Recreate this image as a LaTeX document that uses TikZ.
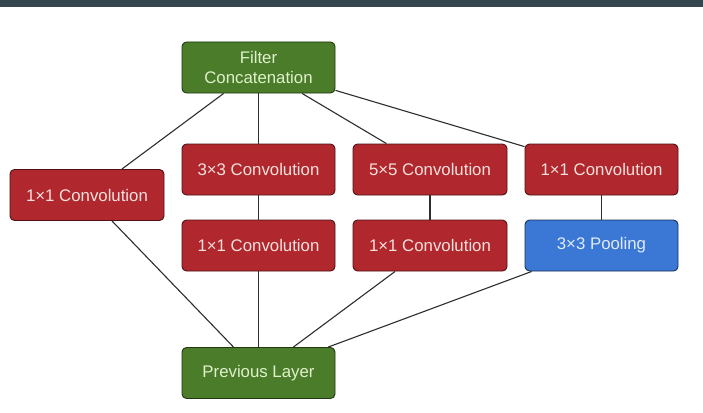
\documentclass[tikz,border=0pt]{standalone}
\usepackage{fontspec}
\setmainfont{Liberation Sans}
\definecolor{barcol}{HTML}{36464F}
\definecolor{convred}{HTML}{B0282D}
\definecolor{convredtxt}{HTML}{F6E0DE}
\definecolor{layergreen}{HTML}{4A7C2A}
\definecolor{layergreentxt}{HTML}{DFF1CB}
\definecolor{poolblue}{HTML}{3B78D6}
\definecolor{poolbluetxt}{HTML}{E2EBF8}
\definecolor{edgecol}{HTML}{2E2E2E}
\tikzset{
  block/.style={rectangle, rounded corners=4.5pt, minimum width=153pt, minimum height=51pt,
    inner sep=0pt, line width=0.9pt, align=center,
    font=\fontsize{16.8}{20}\selectfont},
  conv/.style={block, fill=convred, draw=convred!45!black, text=convredtxt},
  layer/.style={block, fill=layergreen, draw=layergreen!45!black, text=layergreentxt},
  pool/.style={block, fill=poolblue, draw=poolblue!40!black, text=poolbluetxt},
  link/.style={draw=edgecol, line width=1.1pt}
}
\begin{document}
\begin{tikzpicture}[x=1pt, y=-1pt]
  % canvas and header strip
  \fill[white] (0,0) rectangle (703,412);
  \useasboundingbox (0,0) rectangle (703,412);
  \fill[barcol] (0,0) rectangle (703,7);

  % output and input layers
  \node[layer] (concat) at (258.5,67.5) {Filter\\Concatenation};
  \node[layer] (prev)   at (258.5,373) {Previous Layer};

  % inception branches
  \node[conv] (c1)  at (87,195) [minimum width=154pt] {1×1 Convolution};
  \node[conv] (c3)  at (258.5,169.5) {3×3 Convolution};
  \node[conv] (c5)  at (430,169.5) [minimum width=154pt] {5×5 Convolution};
  \node[conv] (cp)  at (601.5,169.5) {1×1 Convolution};
  \node[conv] (r3)  at (258.5,245.5) {1×1 Convolution};
  \node[conv] (r5)  at (430,245.5) [minimum width=154pt] {1×1 Convolution};
  \node[pool] (pl)  at (601.5,245.5) {3×3 Pooling};

  % connections
  \draw[link] (concat) -- (c1);
  \draw[link] (concat) -- (c3);
  \draw[link] (concat) -- (c5);
  \draw[link] (concat) -- (cp);
  \draw[link] (c3) -- (r3);
  \draw[link] (c5) -- (r5);
  \draw[link] (cp) -- (pl);
  \draw[link] (prev) -- (c1);
  \draw[link] (prev) -- (r3);
  \draw[link] (prev) -- (r5);
  \draw[link] (prev) -- (pl);
\end{tikzpicture}
\end{document}
